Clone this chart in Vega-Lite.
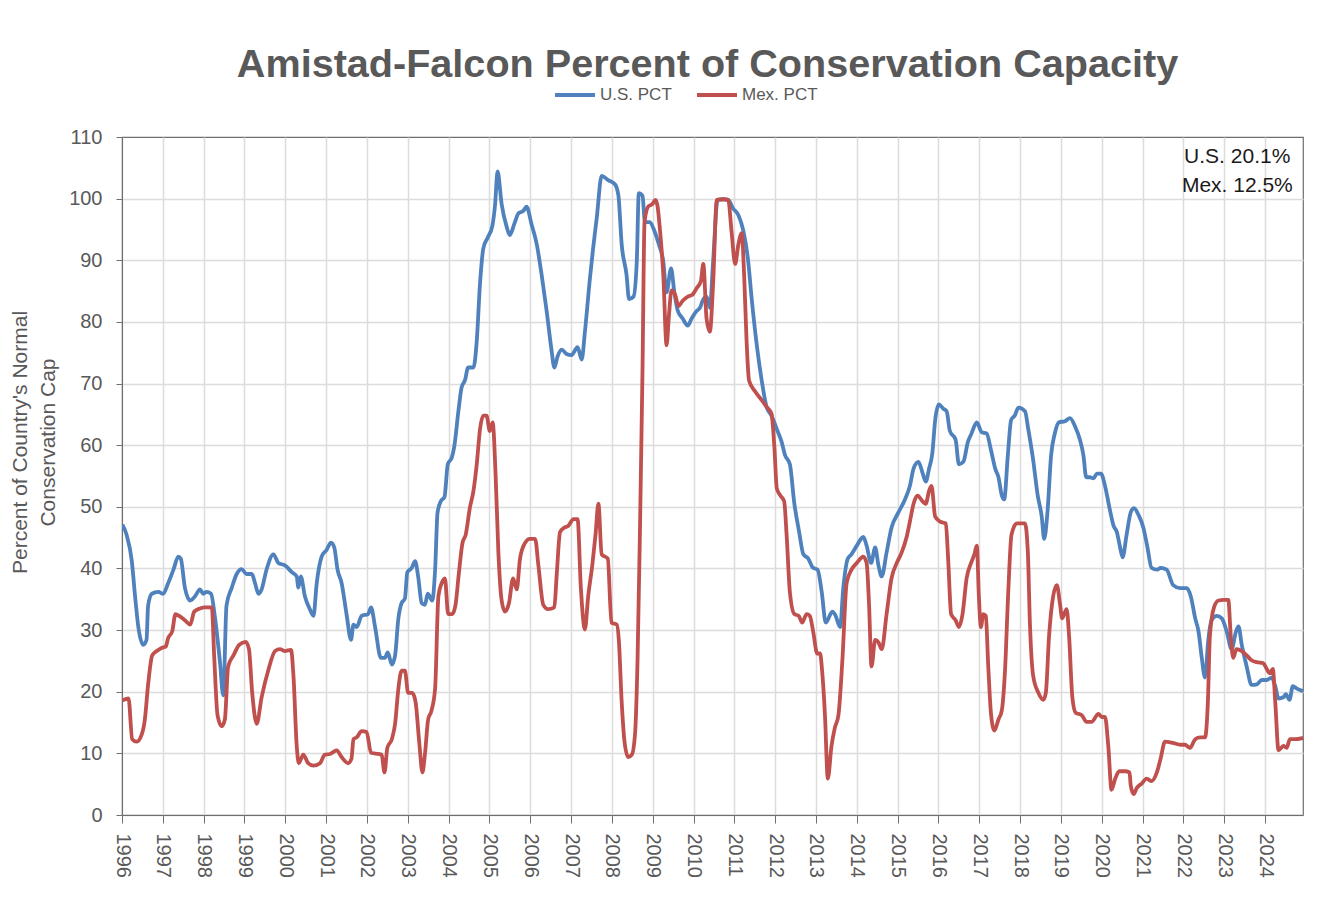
{
  "$schema": "https://vega.github.io/schema/vega-lite/v6.json",
  "autosize": {"type": "none"},
  "width": 1181,
  "height": 678,
  "padding": {"left": 122, "top": 137, "right": 33, "bottom": 98},
  "background": "white",
  "config": {
    "font": "Liberation Sans",
    "view": {"stroke": "#6f6f6f", "strokeWidth": 1.2},
    "axis": {"domainColor": "#6f6f6f", "tickColor": "#6f6f6f", "labelColor": "#595959", "labelFont": "Liberation Sans", "titleFont": "Liberation Sans"}
  },
  "title": {
    "text": "Amistad-Falcon Percent of Conservation Capacity",
    "font": "Liberation Sans",
    "fontSize": 39.6,
    "fontWeight": "bold",
    "color": "#595959",
    "anchor": "middle",
    "offset": -13,
    "dx": -5
  },
  "datasets": {
    "levels": [
      {"year":1996.01,"series":"U.S. PCT","pct":47.1},{"year":1996.11,"series":"U.S. PCT","pct":45.5},{"year":1996.24,"series":"U.S. PCT","pct":41.2},{"year":1996.32,"series":"U.S. PCT","pct":35.5},{"year":1996.40,"series":"U.S. PCT","pct":30.5},{"year":1996.52,"series":"U.S. PCT","pct":27.6},{"year":1996.60,"series":"U.S. PCT","pct":28.4},{"year":1996.64,"series":"U.S. PCT","pct":34},{"year":1996.73,"series":"U.S. PCT","pct":35.9},{"year":1996.89,"series":"U.S. PCT","pct":36.2},
      {"year":1997.01,"series":"U.S. PCT","pct":35.9},{"year":1997.13,"series":"U.S. PCT","pct":37.6},{"year":1997.26,"series":"U.S. PCT","pct":39.8},{"year":1997.38,"series":"U.S. PCT","pct":41.9},{"year":1997.44,"series":"U.S. PCT","pct":41.6},{"year":1997.54,"series":"U.S. PCT","pct":36.9},{"year":1997.67,"series":"U.S. PCT","pct":34.8},{"year":1997.79,"series":"U.S. PCT","pct":35.5},{"year":1997.91,"series":"U.S. PCT","pct":36.6},{"year":1997.99,"series":"U.S. PCT","pct":35.9},
      {"year":1998.07,"series":"U.S. PCT","pct":36.2},{"year":1998.18,"series":"U.S. PCT","pct":35.9},{"year":1998.28,"series":"U.S. PCT","pct":31.9},{"year":1998.40,"series":"U.S. PCT","pct":24.8},{"year":1998.48,"series":"U.S. PCT","pct":19.4},{"year":1998.56,"series":"U.S. PCT","pct":34},{"year":1998.69,"series":"U.S. PCT","pct":36.9},{"year":1998.81,"series":"U.S. PCT","pct":39.1},{"year":1998.93,"series":"U.S. PCT","pct":39.9},
      {"year":1999.05,"series":"U.S. PCT","pct":39.1},{"year":1999.18,"series":"U.S. PCT","pct":39.1},{"year":1999.26,"series":"U.S. PCT","pct":37.6},{"year":1999.34,"series":"U.S. PCT","pct":35.9},{"year":1999.42,"series":"U.S. PCT","pct":36.6},{"year":1999.54,"series":"U.S. PCT","pct":39.8},{"year":1999.71,"series":"U.S. PCT","pct":42.3},{"year":1999.83,"series":"U.S. PCT","pct":40.9},{"year":1999.99,"series":"U.S. PCT","pct":40.5},
      {"year":2000.16,"series":"U.S. PCT","pct":39.4},{"year":2000.28,"series":"U.S. PCT","pct":38.7},{"year":2000.32,"series":"U.S. PCT","pct":36.9},{"year":2000.38,"series":"U.S. PCT","pct":38.7},{"year":2000.48,"series":"U.S. PCT","pct":35.5},{"year":2000.60,"series":"U.S. PCT","pct":33.4},{"year":2000.69,"series":"U.S. PCT","pct":32.3},{"year":2000.77,"series":"U.S. PCT","pct":37.6},{"year":2000.89,"series":"U.S. PCT","pct":41.9},
      {"year":2001.01,"series":"U.S. PCT","pct":43},{"year":2001.12,"series":"U.S. PCT","pct":44.2},{"year":2001.20,"series":"U.S. PCT","pct":43.4},{"year":2001.28,"series":"U.S. PCT","pct":39.8},{"year":2001.38,"series":"U.S. PCT","pct":37.6},{"year":2001.50,"series":"U.S. PCT","pct":32.6},{"year":2001.61,"series":"U.S. PCT","pct":28.4},{"year":2001.67,"series":"U.S. PCT","pct":30.9},{"year":2001.75,"series":"U.S. PCT","pct":30.5},{"year":2001.87,"series":"U.S. PCT","pct":32.3},
      {"year":2002.03,"series":"U.S. PCT","pct":32.6},{"year":2002.10,"series":"U.S. PCT","pct":33.7},{"year":2002.20,"series":"U.S. PCT","pct":30.5},{"year":2002.34,"series":"U.S. PCT","pct":25.5},{"year":2002.44,"series":"U.S. PCT","pct":25.5},{"year":2002.51,"series":"U.S. PCT","pct":26.4},{"year":2002.61,"series":"U.S. PCT","pct":24.4},{"year":2002.69,"series":"U.S. PCT","pct":25.9},{"year":2002.77,"series":"U.S. PCT","pct":31.9},{"year":2002.85,"series":"U.S. PCT","pct":34.4},{"year":2002.93,"series":"U.S. PCT","pct":35.1},{"year":2002.99,"series":"U.S. PCT","pct":39.4},
      {"year":2003.10,"series":"U.S. PCT","pct":40.1},{"year":2003.18,"series":"U.S. PCT","pct":41.2},{"year":2003.26,"series":"U.S. PCT","pct":38.4},{"year":2003.34,"series":"U.S. PCT","pct":34.4},{"year":2003.42,"series":"U.S. PCT","pct":34.1},{"year":2003.49,"series":"U.S. PCT","pct":35.9},{"year":2003.60,"series":"U.S. PCT","pct":34.8},{"year":2003.67,"series":"U.S. PCT","pct":39.8},{"year":2003.73,"series":"U.S. PCT","pct":49.1},{"year":2003.81,"series":"U.S. PCT","pct":50.9},{"year":2003.90,"series":"U.S. PCT","pct":51.6},{"year":2003.98,"series":"U.S. PCT","pct":56.9},
      {"year":2004.08,"series":"U.S. PCT","pct":58},{"year":2004.14,"series":"U.S. PCT","pct":59.8},{"year":2004.24,"series":"U.S. PCT","pct":65.5},{"year":2004.32,"series":"U.S. PCT","pct":69.4},{"year":2004.40,"series":"U.S. PCT","pct":70.5},{"year":2004.48,"series":"U.S. PCT","pct":72.6},{"year":2004.61,"series":"U.S. PCT","pct":72.6},{"year":2004.69,"series":"U.S. PCT","pct":76.9},{"year":2004.77,"series":"U.S. PCT","pct":86.2},{"year":2004.85,"series":"U.S. PCT","pct":91.9},{"year":2004.96,"series":"U.S. PCT","pct":93.7},
      {"year":2005.07,"series":"U.S. PCT","pct":95.5},{"year":2005.14,"series":"U.S. PCT","pct":99.1},{"year":2005.20,"series":"U.S. PCT","pct":104.4},{"year":2005.30,"series":"U.S. PCT","pct":99.1},{"year":2005.42,"series":"U.S. PCT","pct":95.5},{"year":2005.50,"series":"U.S. PCT","pct":94.1},{"year":2005.61,"series":"U.S. PCT","pct":95.9},{"year":2005.71,"series":"U.S. PCT","pct":97.6},{"year":2005.83,"series":"U.S. PCT","pct":98},{"year":2005.91,"series":"U.S. PCT","pct":98.7},
      {"year":2006.03,"series":"U.S. PCT","pct":95.9},{"year":2006.16,"series":"U.S. PCT","pct":92.6},{"year":2006.28,"series":"U.S. PCT","pct":87.6},{"year":2006.40,"series":"U.S. PCT","pct":81.9},{"year":2006.52,"series":"U.S. PCT","pct":75.5},{"year":2006.59,"series":"U.S. PCT","pct":72.6},{"year":2006.67,"series":"U.S. PCT","pct":74.4},{"year":2006.77,"series":"U.S. PCT","pct":75.5},{"year":2006.89,"series":"U.S. PCT","pct":74.8},
      {"year":2007.01,"series":"U.S. PCT","pct":74.6},{"year":2007.16,"series":"U.S. PCT","pct":75.9},{"year":2007.26,"series":"U.S. PCT","pct":73.9},{"year":2007.34,"series":"U.S. PCT","pct":78.4},{"year":2007.46,"series":"U.S. PCT","pct":86.9},{"year":2007.54,"series":"U.S. PCT","pct":91.9},{"year":2007.63,"series":"U.S. PCT","pct":96.9},{"year":2007.75,"series":"U.S. PCT","pct":103.7},{"year":2007.91,"series":"U.S. PCT","pct":103},
      {"year":2008.08,"series":"U.S. PCT","pct":102.3},{"year":2008.16,"series":"U.S. PCT","pct":100.5},{"year":2008.24,"series":"U.S. PCT","pct":92.6},{"year":2008.36,"series":"U.S. PCT","pct":87.6},{"year":2008.42,"series":"U.S. PCT","pct":83.7},{"year":2008.53,"series":"U.S. PCT","pct":84.1},{"year":2008.61,"series":"U.S. PCT","pct":89.8},{"year":2008.66,"series":"U.S. PCT","pct":100.9},{"year":2008.75,"series":"U.S. PCT","pct":100.5},{"year":2008.81,"series":"U.S. PCT","pct":96.2},{"year":2008.93,"series":"U.S. PCT","pct":96.2},
      {"year":2009.04,"series":"U.S. PCT","pct":94.8},{"year":2009.15,"series":"U.S. PCT","pct":92.6},{"year":2009.26,"series":"U.S. PCT","pct":89.8},{"year":2009.34,"series":"U.S. PCT","pct":84.8},{"year":2009.45,"series":"U.S. PCT","pct":88.7},{"year":2009.53,"series":"U.S. PCT","pct":84.8},{"year":2009.61,"series":"U.S. PCT","pct":81.9},{"year":2009.73,"series":"U.S. PCT","pct":80.6},{"year":2009.86,"series":"U.S. PCT","pct":79.4},{"year":2009.95,"series":"U.S. PCT","pct":80.5},
      {"year":2010.08,"series":"U.S. PCT","pct":81.8},{"year":2010.16,"series":"U.S. PCT","pct":82.3},{"year":2010.22,"series":"U.S. PCT","pct":83.4},{"year":2010.32,"series":"U.S. PCT","pct":84.1},{"year":2010.40,"series":"U.S. PCT","pct":82.3},{"year":2010.48,"series":"U.S. PCT","pct":89.8},{"year":2010.59,"series":"U.S. PCT","pct":99.8},{"year":2010.73,"series":"U.S. PCT","pct":99.9},{"year":2010.85,"series":"U.S. PCT","pct":99.8},{"year":2010.97,"series":"U.S. PCT","pct":98.4},
      {"year":2011.10,"series":"U.S. PCT","pct":97.3},{"year":2011.22,"series":"U.S. PCT","pct":94.8},{"year":2011.34,"series":"U.S. PCT","pct":89.8},{"year":2011.42,"series":"U.S. PCT","pct":84.1},{"year":2011.55,"series":"U.S. PCT","pct":76.2},{"year":2011.67,"series":"U.S. PCT","pct":70.5},{"year":2011.79,"series":"U.S. PCT","pct":66.2},{"year":2011.91,"series":"U.S. PCT","pct":64.8},
      {"year":2012.04,"series":"U.S. PCT","pct":62.6},{"year":2012.16,"series":"U.S. PCT","pct":60.5},{"year":2012.24,"series":"U.S. PCT","pct":58.4},{"year":2012.36,"series":"U.S. PCT","pct":56.9},{"year":2012.47,"series":"U.S. PCT","pct":50.5},{"year":2012.58,"series":"U.S. PCT","pct":46.2},{"year":2012.69,"series":"U.S. PCT","pct":42.3},{"year":2012.81,"series":"U.S. PCT","pct":41.6},{"year":2012.93,"series":"U.S. PCT","pct":40.1},
      {"year":2013.04,"series":"U.S. PCT","pct":39.8},{"year":2013.14,"series":"U.S. PCT","pct":36.2},{"year":2013.24,"series":"U.S. PCT","pct":31.2},{"year":2013.40,"series":"U.S. PCT","pct":33},{"year":2013.47,"series":"U.S. PCT","pct":32.5},{"year":2013.59,"series":"U.S. PCT","pct":30.5},{"year":2013.67,"series":"U.S. PCT","pct":36.9},{"year":2013.78,"series":"U.S. PCT","pct":41.6},{"year":2013.87,"series":"U.S. PCT","pct":42.3},
      {"year":2014.00,"series":"U.S. PCT","pct":43.7},{"year":2014.16,"series":"U.S. PCT","pct":45.1},{"year":2014.24,"series":"U.S. PCT","pct":43.7},{"year":2014.35,"series":"U.S. PCT","pct":40.9},{"year":2014.45,"series":"U.S. PCT","pct":43.4},{"year":2014.53,"series":"U.S. PCT","pct":40.5},{"year":2014.61,"series":"U.S. PCT","pct":38.7},{"year":2014.73,"series":"U.S. PCT","pct":42.6},{"year":2014.85,"series":"U.S. PCT","pct":46.6},
      {"year":2015.02,"series":"U.S. PCT","pct":49.1},{"year":2015.18,"series":"U.S. PCT","pct":51.2},{"year":2015.30,"series":"U.S. PCT","pct":53.4},{"year":2015.39,"series":"U.S. PCT","pct":56.2},{"year":2015.51,"series":"U.S. PCT","pct":57.3},{"year":2015.61,"series":"U.S. PCT","pct":55.5},{"year":2015.69,"series":"U.S. PCT","pct":54.1},{"year":2015.77,"series":"U.S. PCT","pct":56.2},{"year":2015.85,"series":"U.S. PCT","pct":58.7},{"year":2015.92,"series":"U.S. PCT","pct":64.1},
      {"year":2016.01,"series":"U.S. PCT","pct":66.6},{"year":2016.12,"series":"U.S. PCT","pct":65.9},{"year":2016.20,"series":"U.S. PCT","pct":65.5},{"year":2016.28,"series":"U.S. PCT","pct":62.3},{"year":2016.42,"series":"U.S. PCT","pct":60.9},{"year":2016.50,"series":"U.S. PCT","pct":56.9},{"year":2016.61,"series":"U.S. PCT","pct":57.3},{"year":2016.72,"series":"U.S. PCT","pct":60.5},{"year":2016.81,"series":"U.S. PCT","pct":61.9},{"year":2016.94,"series":"U.S. PCT","pct":63.7},
      {"year":2017.06,"series":"U.S. PCT","pct":62.1},{"year":2017.18,"series":"U.S. PCT","pct":61.9},{"year":2017.29,"series":"U.S. PCT","pct":59.1},{"year":2017.39,"series":"U.S. PCT","pct":56.2},{"year":2017.47,"series":"U.S. PCT","pct":54.8},{"year":2017.55,"series":"U.S. PCT","pct":51.9},{"year":2017.61,"series":"U.S. PCT","pct":51.2},{"year":2017.70,"series":"U.S. PCT","pct":58.4},{"year":2017.78,"series":"U.S. PCT","pct":64.1},{"year":2017.87,"series":"U.S. PCT","pct":64.8},{"year":2017.96,"series":"U.S. PCT","pct":66.1},
      {"year":2018.12,"series":"U.S. PCT","pct":65.5},{"year":2018.20,"series":"U.S. PCT","pct":62.6},{"year":2018.32,"series":"U.S. PCT","pct":57.6},{"year":2018.43,"series":"U.S. PCT","pct":51.9},{"year":2018.53,"series":"U.S. PCT","pct":48.4},{"year":2018.59,"series":"U.S. PCT","pct":44.8},{"year":2018.67,"series":"U.S. PCT","pct":49.1},{"year":2018.76,"series":"U.S. PCT","pct":58.4},{"year":2018.85,"series":"U.S. PCT","pct":61.9},{"year":2018.95,"series":"U.S. PCT","pct":63.7},
      {"year":2019.10,"series":"U.S. PCT","pct":63.9},{"year":2019.22,"series":"U.S. PCT","pct":64.4},{"year":2019.35,"series":"U.S. PCT","pct":63},{"year":2019.47,"series":"U.S. PCT","pct":60.8},{"year":2019.55,"series":"U.S. PCT","pct":58.4},{"year":2019.62,"series":"U.S. PCT","pct":54.8},{"year":2019.71,"series":"U.S. PCT","pct":54.8},{"year":2019.80,"series":"U.S. PCT","pct":54.6},{"year":2019.88,"series":"U.S. PCT","pct":55.4},{"year":2019.98,"series":"U.S. PCT","pct":55.4},
      {"year":2020.08,"series":"U.S. PCT","pct":53.4},{"year":2020.19,"series":"U.S. PCT","pct":49.8},{"year":2020.29,"series":"U.S. PCT","pct":46.9},{"year":2020.37,"series":"U.S. PCT","pct":45.9},{"year":2020.45,"series":"U.S. PCT","pct":43.4},{"year":2020.51,"series":"U.S. PCT","pct":41.8},{"year":2020.61,"series":"U.S. PCT","pct":45.5},{"year":2020.71,"series":"U.S. PCT","pct":49.1},{"year":2020.79,"series":"U.S. PCT","pct":49.8},{"year":2020.90,"series":"U.S. PCT","pct":48.7},
      {"year":2021.02,"series":"U.S. PCT","pct":46.6},{"year":2021.12,"series":"U.S. PCT","pct":43.4},{"year":2021.22,"series":"U.S. PCT","pct":40.1},{"year":2021.36,"series":"U.S. PCT","pct":39.8},{"year":2021.44,"series":"U.S. PCT","pct":40.1},{"year":2021.59,"series":"U.S. PCT","pct":39.8},{"year":2021.75,"series":"U.S. PCT","pct":37.3},{"year":2021.92,"series":"U.S. PCT","pct":36.8},
      {"year":2022.08,"series":"U.S. PCT","pct":36.8},{"year":2022.18,"series":"U.S. PCT","pct":35.5},{"year":2022.29,"series":"U.S. PCT","pct":31.9},{"year":2022.37,"series":"U.S. PCT","pct":29.8},{"year":2022.45,"series":"U.S. PCT","pct":25.5},{"year":2022.53,"series":"U.S. PCT","pct":22.3},{"year":2022.61,"series":"U.S. PCT","pct":28.4},{"year":2022.69,"series":"U.S. PCT","pct":31.6},{"year":2022.82,"series":"U.S. PCT","pct":32.3},{"year":2022.94,"series":"U.S. PCT","pct":31.9},
      {"year":2023.06,"series":"U.S. PCT","pct":29.8},{"year":2023.18,"series":"U.S. PCT","pct":26.9},{"year":2023.29,"series":"U.S. PCT","pct":29.8},{"year":2023.35,"series":"U.S. PCT","pct":30.6},{"year":2023.43,"series":"U.S. PCT","pct":27.6},{"year":2023.55,"series":"U.S. PCT","pct":24.1},{"year":2023.67,"series":"U.S. PCT","pct":21.1},{"year":2023.80,"series":"U.S. PCT","pct":21.2},{"year":2023.92,"series":"U.S. PCT","pct":21.9},
      {"year":2024.04,"series":"U.S. PCT","pct":21.9},{"year":2024.16,"series":"U.S. PCT","pct":22.3},{"year":2024.25,"series":"U.S. PCT","pct":20.9},{"year":2024.33,"series":"U.S. PCT","pct":18.9},{"year":2024.45,"series":"U.S. PCT","pct":19.1},{"year":2024.51,"series":"U.S. PCT","pct":19.6},{"year":2024.60,"series":"U.S. PCT","pct":18.7},{"year":2024.68,"series":"U.S. PCT","pct":20.9},{"year":2024.78,"series":"U.S. PCT","pct":20.5},{"year":2024.93,"series":"U.S. PCT","pct":20.1},

      {"year":1996.01,"series":"Mex. PCT","pct":18.6},{"year":1996.16,"series":"Mex. PCT","pct":18.9},{"year":1996.25,"series":"Mex. PCT","pct":12.3},{"year":1996.36,"series":"Mex. PCT","pct":11.9},{"year":1996.48,"series":"Mex. PCT","pct":13},{"year":1996.56,"series":"Mex. PCT","pct":15.5},{"year":1996.64,"series":"Mex. PCT","pct":21.2},{"year":1996.74,"series":"Mex. PCT","pct":25.9},{"year":1996.85,"series":"Mex. PCT","pct":26.6},{"year":1996.97,"series":"Mex. PCT","pct":27.1},
      {"year":1997.07,"series":"Mex. PCT","pct":27.3},{"year":1997.13,"series":"Mex. PCT","pct":28.7},{"year":1997.23,"series":"Mex. PCT","pct":29.8},{"year":1997.31,"series":"Mex. PCT","pct":32.6},{"year":1997.40,"series":"Mex. PCT","pct":32.3},{"year":1997.54,"series":"Mex. PCT","pct":31.6},{"year":1997.67,"series":"Mex. PCT","pct":30.9},{"year":1997.77,"series":"Mex. PCT","pct":33},{"year":1997.91,"series":"Mex. PCT","pct":33.5},
      {"year":1998.03,"series":"Mex. PCT","pct":33.7},{"year":1998.20,"series":"Mex. PCT","pct":33.7},{"year":1998.26,"series":"Mex. PCT","pct":25.5},{"year":1998.34,"series":"Mex. PCT","pct":16.2},{"year":1998.44,"series":"Mex. PCT","pct":14.4},{"year":1998.52,"series":"Mex. PCT","pct":15.5},{"year":1998.60,"series":"Mex. PCT","pct":24.1},{"year":1998.73,"series":"Mex. PCT","pct":25.9},{"year":1998.87,"series":"Mex. PCT","pct":27.6},
      {"year":1999.03,"series":"Mex. PCT","pct":28.1},{"year":1999.11,"series":"Mex. PCT","pct":26.9},{"year":1999.19,"series":"Mex. PCT","pct":19.8},{"year":1999.30,"series":"Mex. PCT","pct":14.8},{"year":1999.42,"series":"Mex. PCT","pct":19.1},{"year":1999.58,"series":"Mex. PCT","pct":23.4},{"year":1999.75,"series":"Mex. PCT","pct":26.6},{"year":1999.87,"series":"Mex. PCT","pct":26.9},{"year":1999.99,"series":"Mex. PCT","pct":26.6},
      {"year":2000.14,"series":"Mex. PCT","pct":26.8},{"year":2000.20,"series":"Mex. PCT","pct":22.6},{"year":2000.28,"series":"Mex. PCT","pct":11.2},{"year":2000.33,"series":"Mex. PCT","pct":8.4},{"year":2000.44,"series":"Mex. PCT","pct":9.8},{"year":2000.56,"series":"Mex. PCT","pct":8.4},{"year":2000.69,"series":"Mex. PCT","pct":8},{"year":2000.85,"series":"Mex. PCT","pct":8.4},{"year":2000.97,"series":"Mex. PCT","pct":9.8},
      {"year":2001.09,"series":"Mex. PCT","pct":9.9},{"year":2001.26,"series":"Mex. PCT","pct":10.5},{"year":2001.38,"series":"Mex. PCT","pct":9.4},{"year":2001.54,"series":"Mex. PCT","pct":8.4},{"year":2001.62,"series":"Mex. PCT","pct":9.1},{"year":2001.67,"series":"Mex. PCT","pct":12.3},{"year":2001.75,"series":"Mex. PCT","pct":12.6},{"year":2001.87,"series":"Mex. PCT","pct":13.6},{"year":2001.99,"series":"Mex. PCT","pct":13.5},
      {"year":2002.10,"series":"Mex. PCT","pct":10.1},{"year":2002.28,"series":"Mex. PCT","pct":9.9},{"year":2002.36,"series":"Mex. PCT","pct":9.8},{"year":2002.43,"series":"Mex. PCT","pct":6.9},{"year":2002.50,"series":"Mex. PCT","pct":10.9},{"year":2002.61,"series":"Mex. PCT","pct":12.3},{"year":2002.69,"series":"Mex. PCT","pct":14.8},{"year":2002.77,"series":"Mex. PCT","pct":20.5},{"year":2002.85,"series":"Mex. PCT","pct":23.4},{"year":2002.93,"series":"Mex. PCT","pct":23.4},
      {"year":2003.01,"series":"Mex. PCT","pct":19.8},{"year":2003.11,"series":"Mex. PCT","pct":19.8},{"year":2003.19,"series":"Mex. PCT","pct":18.4},{"year":2003.28,"series":"Mex. PCT","pct":11.9},{"year":2003.36,"series":"Mex. PCT","pct":6.9},{"year":2003.42,"series":"Mex. PCT","pct":9.8},{"year":2003.50,"series":"Mex. PCT","pct":15.5},{"year":2003.58,"series":"Mex. PCT","pct":16.9},{"year":2003.67,"series":"Mex. PCT","pct":20.5},{"year":2003.75,"series":"Mex. PCT","pct":35.5},{"year":2003.83,"series":"Mex. PCT","pct":37.6},{"year":2003.91,"series":"Mex. PCT","pct":38.4},{"year":2003.99,"series":"Mex. PCT","pct":32.6},
      {"year":2004.09,"series":"Mex. PCT","pct":32.6},{"year":2004.17,"series":"Mex. PCT","pct":34.1},{"year":2004.25,"series":"Mex. PCT","pct":39.1},{"year":2004.34,"series":"Mex. PCT","pct":44.1},{"year":2004.42,"series":"Mex. PCT","pct":45.5},{"year":2004.52,"series":"Mex. PCT","pct":49.8},{"year":2004.61,"series":"Mex. PCT","pct":52.6},{"year":2004.69,"series":"Mex. PCT","pct":56.9},{"year":2004.77,"series":"Mex. PCT","pct":62.6},{"year":2004.85,"series":"Mex. PCT","pct":64.8},{"year":2004.93,"series":"Mex. PCT","pct":64.8},
      {"year":2005.01,"series":"Mex. PCT","pct":62.3},{"year":2005.08,"series":"Mex. PCT","pct":63.7},{"year":2005.15,"series":"Mex. PCT","pct":55.5},{"year":2005.22,"series":"Mex. PCT","pct":42.6},{"year":2005.30,"series":"Mex. PCT","pct":34.8},{"year":2005.38,"series":"Mex. PCT","pct":33},{"year":2005.48,"series":"Mex. PCT","pct":34.4},{"year":2005.58,"series":"Mex. PCT","pct":38.4},{"year":2005.67,"series":"Mex. PCT","pct":36.6},{"year":2005.75,"series":"Mex. PCT","pct":41.6},{"year":2005.87,"series":"Mex. PCT","pct":44.1},{"year":2005.99,"series":"Mex. PCT","pct":44.8},
      {"year":2006.12,"series":"Mex. PCT","pct":44.8},{"year":2006.20,"series":"Mex. PCT","pct":40.5},{"year":2006.32,"series":"Mex. PCT","pct":34.1},{"year":2006.44,"series":"Mex. PCT","pct":33.4},{"year":2006.59,"series":"Mex. PCT","pct":33.7},{"year":2006.65,"series":"Mex. PCT","pct":39.1},{"year":2006.73,"series":"Mex. PCT","pct":45.9},{"year":2006.83,"series":"Mex. PCT","pct":46.6},{"year":2006.93,"series":"Mex. PCT","pct":46.9},
      {"year":2007.06,"series":"Mex. PCT","pct":48},{"year":2007.16,"series":"Mex. PCT","pct":48},{"year":2007.24,"series":"Mex. PCT","pct":36.9},{"year":2007.34,"series":"Mex. PCT","pct":30.1},{"year":2007.42,"series":"Mex. PCT","pct":35.5},{"year":2007.52,"series":"Mex. PCT","pct":40.5},{"year":2007.60,"series":"Mex. PCT","pct":45.5},{"year":2007.67,"series":"Mex. PCT","pct":50.5},{"year":2007.75,"series":"Mex. PCT","pct":42.3},{"year":2007.90,"series":"Mex. PCT","pct":41.6},{"year":2007.99,"series":"Mex. PCT","pct":31.2},
      {"year":2008.12,"series":"Mex. PCT","pct":30.9},{"year":2008.17,"series":"Mex. PCT","pct":28.4},{"year":2008.24,"series":"Mex. PCT","pct":18.4},{"year":2008.31,"series":"Mex. PCT","pct":11.9},{"year":2008.40,"series":"Mex. PCT","pct":9.4},{"year":2008.49,"series":"Mex. PCT","pct":9.8},{"year":2008.57,"series":"Mex. PCT","pct":13.4},{"year":2008.63,"series":"Mex. PCT","pct":25.5},{"year":2008.69,"series":"Mex. PCT","pct":46.9},{"year":2008.75,"series":"Mex. PCT","pct":71.9},{"year":2008.80,"series":"Mex. PCT","pct":96.2},{"year":2008.89,"series":"Mex. PCT","pct":98.7},{"year":2008.99,"series":"Mex. PCT","pct":99.1},
      {"year":2009.07,"series":"Mex. PCT","pct":99.8},{"year":2009.12,"series":"Mex. PCT","pct":98.7},{"year":2009.18,"series":"Mex. PCT","pct":94.8},{"year":2009.26,"series":"Mex. PCT","pct":87.6},{"year":2009.34,"series":"Mex. PCT","pct":76.2},{"year":2009.40,"series":"Mex. PCT","pct":81.2},{"year":2009.46,"series":"Mex. PCT","pct":85.1},{"year":2009.55,"series":"Mex. PCT","pct":84.4},{"year":2009.63,"series":"Mex. PCT","pct":82.6},{"year":2009.73,"series":"Mex. PCT","pct":83.4},{"year":2009.86,"series":"Mex. PCT","pct":84.1},{"year":2009.97,"series":"Mex. PCT","pct":84.4},
      {"year":2010.08,"series":"Mex. PCT","pct":85.5},{"year":2010.18,"series":"Mex. PCT","pct":86.6},{"year":2010.24,"series":"Mex. PCT","pct":89.4},{"year":2010.32,"series":"Mex. PCT","pct":80.5},{"year":2010.40,"series":"Mex. PCT","pct":78.4},{"year":2010.48,"series":"Mex. PCT","pct":86.2},{"year":2010.57,"series":"Mex. PCT","pct":99.8},{"year":2010.73,"series":"Mex. PCT","pct":99.9},{"year":2010.85,"series":"Mex. PCT","pct":99.8},{"year":2010.93,"series":"Mex. PCT","pct":94.8},
      {"year":2011.02,"series":"Mex. PCT","pct":89.4},{"year":2011.10,"series":"Mex. PCT","pct":92.6},{"year":2011.18,"series":"Mex. PCT","pct":94.4},{"year":2011.24,"series":"Mex. PCT","pct":87.6},{"year":2011.30,"series":"Mex. PCT","pct":76.9},{"year":2011.36,"series":"Mex. PCT","pct":70.5},{"year":2011.51,"series":"Mex. PCT","pct":68.7},{"year":2011.67,"series":"Mex. PCT","pct":67.3},{"year":2011.79,"series":"Mex. PCT","pct":66.2},{"year":2011.91,"series":"Mex. PCT","pct":65.1},{"year":2011.98,"series":"Mex. PCT","pct":59.8},
      {"year":2012.04,"series":"Mex. PCT","pct":53},{"year":2012.12,"series":"Mex. PCT","pct":51.9},{"year":2012.22,"series":"Mex. PCT","pct":50.9},{"year":2012.28,"series":"Mex. PCT","pct":45.5},{"year":2012.36,"series":"Mex. PCT","pct":36.2},{"year":2012.47,"series":"Mex. PCT","pct":32.6},{"year":2012.58,"series":"Mex. PCT","pct":32.3},{"year":2012.66,"series":"Mex. PCT","pct":31.2},{"year":2012.77,"series":"Mex. PCT","pct":32.6},{"year":2012.85,"series":"Mex. PCT","pct":32.3},{"year":2012.93,"series":"Mex. PCT","pct":29.8},
      {"year":2013.03,"series":"Mex. PCT","pct":26.2},{"year":2013.10,"series":"Mex. PCT","pct":26.2},{"year":2013.15,"series":"Mex. PCT","pct":23.4},{"year":2013.22,"series":"Mex. PCT","pct":16.2},{"year":2013.29,"series":"Mex. PCT","pct":5.9},{"year":2013.38,"series":"Mex. PCT","pct":11.2},{"year":2013.46,"series":"Mex. PCT","pct":14.1},{"year":2013.55,"series":"Mex. PCT","pct":16.2},{"year":2013.65,"series":"Mex. PCT","pct":25.5},{"year":2013.75,"series":"Mex. PCT","pct":37.6},{"year":2013.87,"series":"Mex. PCT","pct":39.8},
      {"year":2014.00,"series":"Mex. PCT","pct":40.9},{"year":2014.16,"series":"Mex. PCT","pct":41.9},{"year":2014.24,"series":"Mex. PCT","pct":40.9},{"year":2014.30,"series":"Mex. PCT","pct":34.1},{"year":2014.36,"series":"Mex. PCT","pct":24.1},{"year":2014.45,"series":"Mex. PCT","pct":28.4},{"year":2014.53,"series":"Mex. PCT","pct":28},{"year":2014.61,"series":"Mex. PCT","pct":26.9},{"year":2014.73,"series":"Mex. PCT","pct":32.6},{"year":2014.85,"series":"Mex. PCT","pct":38.4},{"year":2014.98,"series":"Mex. PCT","pct":40.9},
      {"year":2015.10,"series":"Mex. PCT","pct":42.6},{"year":2015.22,"series":"Mex. PCT","pct":45.1},{"year":2015.30,"series":"Mex. PCT","pct":47.6},{"year":2015.39,"series":"Mex. PCT","pct":50.5},{"year":2015.49,"series":"Mex. PCT","pct":51.8},{"year":2015.61,"series":"Mex. PCT","pct":50.9},{"year":2015.69,"series":"Mex. PCT","pct":50.5},{"year":2015.77,"series":"Mex. PCT","pct":52.6},{"year":2015.83,"series":"Mex. PCT","pct":53.4},{"year":2015.92,"series":"Mex. PCT","pct":48.4},
      {"year":2016.04,"series":"Mex. PCT","pct":47.6},{"year":2016.18,"series":"Mex. PCT","pct":47.3},{"year":2016.24,"series":"Mex. PCT","pct":41.2},{"year":2016.31,"series":"Mex. PCT","pct":32.6},{"year":2016.42,"series":"Mex. PCT","pct":31.6},{"year":2016.50,"series":"Mex. PCT","pct":30.5},{"year":2016.59,"series":"Mex. PCT","pct":32.6},{"year":2016.69,"series":"Mex. PCT","pct":38.4},{"year":2016.80,"series":"Mex. PCT","pct":40.9},{"year":2016.88,"series":"Mex. PCT","pct":42.3},{"year":2016.94,"series":"Mex. PCT","pct":43.7},{"year":2016.99,"series":"Mex. PCT","pct":35.5},
      {"year":2017.04,"series":"Mex. PCT","pct":30.5},{"year":2017.10,"series":"Mex. PCT","pct":32.6},{"year":2017.16,"series":"Mex. PCT","pct":32.3},{"year":2017.22,"series":"Mex. PCT","pct":24.1},{"year":2017.29,"series":"Mex. PCT","pct":16.2},{"year":2017.37,"series":"Mex. PCT","pct":13.7},{"year":2017.47,"series":"Mex. PCT","pct":15.5},{"year":2017.55,"series":"Mex. PCT","pct":16.9},{"year":2017.63,"series":"Mex. PCT","pct":23.4},{"year":2017.71,"series":"Mex. PCT","pct":36.2},{"year":2017.79,"series":"Mex. PCT","pct":45.5},{"year":2017.92,"series":"Mex. PCT","pct":47.3},
      {"year":2018.04,"series":"Mex. PCT","pct":47.3},{"year":2018.12,"series":"Mex. PCT","pct":47.3},{"year":2018.19,"series":"Mex. PCT","pct":42.6},{"year":2018.24,"series":"Mex. PCT","pct":31.2},{"year":2018.32,"series":"Mex. PCT","pct":22.6},{"year":2018.45,"series":"Mex. PCT","pct":19.8},{"year":2018.57,"series":"Mex. PCT","pct":18.7},{"year":2018.63,"series":"Mex. PCT","pct":19.8},{"year":2018.71,"series":"Mex. PCT","pct":29.1},{"year":2018.81,"series":"Mex. PCT","pct":35.5},{"year":2018.90,"series":"Mex. PCT","pct":37.3},{"year":2018.98,"series":"Mex. PCT","pct":34.1},
      {"year":2019.03,"series":"Mex. PCT","pct":31.9},{"year":2019.14,"series":"Mex. PCT","pct":33.4},{"year":2019.20,"series":"Mex. PCT","pct":29},{"year":2019.28,"series":"Mex. PCT","pct":19.1},{"year":2019.36,"series":"Mex. PCT","pct":16.6},{"year":2019.51,"series":"Mex. PCT","pct":16.2},{"year":2019.63,"series":"Mex. PCT","pct":15.1},{"year":2019.75,"series":"Mex. PCT","pct":15.1},{"year":2019.92,"series":"Mex. PCT","pct":16.4},
      {"year":2020.00,"series":"Mex. PCT","pct":15.9},{"year":2020.08,"series":"Mex. PCT","pct":15.9},{"year":2020.16,"series":"Mex. PCT","pct":11.2},{"year":2020.24,"series":"Mex. PCT","pct":4.1},{"year":2020.33,"series":"Mex. PCT","pct":5.9},{"year":2020.43,"series":"Mex. PCT","pct":7.1},{"year":2020.57,"series":"Mex. PCT","pct":7.1},{"year":2020.68,"series":"Mex. PCT","pct":6.9},{"year":2020.71,"series":"Mex. PCT","pct":4.8},{"year":2020.78,"series":"Mex. PCT","pct":3.4},{"year":2020.86,"series":"Mex. PCT","pct":4.4},{"year":2020.98,"series":"Mex. PCT","pct":5.1},
      {"year":2021.10,"series":"Mex. PCT","pct":5.9},{"year":2021.22,"series":"Mex. PCT","pct":5.5},{"year":2021.35,"series":"Mex. PCT","pct":6.9},{"year":2021.44,"series":"Mex. PCT","pct":9.1},{"year":2021.55,"series":"Mex. PCT","pct":11.9},{"year":2021.67,"series":"Mex. PCT","pct":11.8},{"year":2021.80,"series":"Mex. PCT","pct":11.6},{"year":2021.92,"series":"Mex. PCT","pct":11.4},
      {"year":2022.04,"series":"Mex. PCT","pct":11.4},{"year":2022.16,"series":"Mex. PCT","pct":10.9},{"year":2022.29,"series":"Mex. PCT","pct":12.3},{"year":2022.41,"series":"Mex. PCT","pct":12.6},{"year":2022.53,"series":"Mex. PCT","pct":12.6},{"year":2022.60,"series":"Mex. PCT","pct":18.4},{"year":2022.65,"series":"Mex. PCT","pct":29.1},{"year":2022.75,"series":"Mex. PCT","pct":33.7},{"year":2022.86,"series":"Mex. PCT","pct":34.8},{"year":2022.98,"series":"Mex. PCT","pct":34.9},
      {"year":2023.10,"series":"Mex. PCT","pct":34.9},{"year":2023.16,"series":"Mex. PCT","pct":29.1},{"year":2023.22,"series":"Mex. PCT","pct":25.5},{"year":2023.30,"series":"Mex. PCT","pct":26.9},{"year":2023.43,"series":"Mex. PCT","pct":26.6},{"year":2023.55,"series":"Mex. PCT","pct":25.9},{"year":2023.67,"series":"Mex. PCT","pct":25.1},{"year":2023.80,"series":"Mex. PCT","pct":24.8},{"year":2023.96,"series":"Mex. PCT","pct":24.6},
      {"year":2024.04,"series":"Mex. PCT","pct":23.7},{"year":2024.12,"series":"Mex. PCT","pct":23},{"year":2024.19,"series":"Mex. PCT","pct":23.7},{"year":2024.25,"series":"Mex. PCT","pct":18.4},{"year":2024.33,"series":"Mex. PCT","pct":10.5},{"year":2024.45,"series":"Mex. PCT","pct":11.2},{"year":2024.53,"series":"Mex. PCT","pct":10.9},{"year":2024.61,"series":"Mex. PCT","pct":12.3},{"year":2024.73,"series":"Mex. PCT","pct":12.3},{"year":2024.93,"series":"Mex. PCT","pct":12.5}
    ],
    "notes": [
      {"year": 2024.62, "pct": 106.8, "label": "U.S. 20.1%"},
      {"year": 2024.68, "pct": 102.1, "label": "Mex.  12.5%"}
    ]
  },
  "layer": [
    {
      "data": {"name": "levels"},
      "mark": {"type": "line", "strokeWidth": 3.8, "interpolate": "monotone", "clip": true},
      "encoding": {
        "x": {
          "field": "year", "type": "quantitative",
          "scale": {"domain": [1996, 2024.93], "nice": false, "zero": false},
          "axis": {
            "title": null,
            "values": [1996,1996.5,1997,1997.5,1998,1998.5,1999,1999.5,2000,2000.5,2001,2001.5,2002,2002.5,2003,2003.5,2004,2004.5,2005,2005.5,2006,2006.5,2007,2007.5,2008,2008.5,2009,2009.5,2010,2010.5,2011,2011.5,2012,2012.5,2013,2013.5,2014,2014.5,2015,2015.5,2016,2016.5,2017,2017.5,2018,2018.5,2019,2019.5,2020,2020.5,2021,2021.5,2022,2022.5,2023,2023.5,2024,2024.5],
            "labelExpr": "datum.value % 1 === 0 ? format(datum.value, 'd') : ''",
            "labelAngle": 90,
            "labelAlign": "left",
            "labelBaseline": "middle",
            "labelFontSize": 20,
            "labelPadding": 10,
            "labelOverlap": false,
            "labelFlush": false,
            "tickSize": 8,
            "grid": true,
            "gridColor": {"condition": {"test": "datum.value % 1 !== 0", "value": "#ececec"}, "value": "#dcdcdc"},
            "gridDash": {"condition": {"test": "datum.value % 1 !== 0", "value": [2, 2]}, "value": []},
            "gridWidth": 1.5
          }
        },
        "y": {
          "field": "pct", "type": "quantitative",
          "scale": {"domain": [0, 110], "nice": false},
          "axis": {
            "values": [0,10,20,30,40,50,60,70,80,90,100,110],
            "title": ["Percent of Country's Normal", "Conservation Cap"],
            "titleFontSize": 21,
            "titleFontWeight": "normal",
            "titleColor": "#595959",
            "titleX": -113,
            "titleY": 305,
            "titleAlign": "center",
            "titleBaseline": "top",
            "titleLineHeight": 28,
            "labelFontSize": 20,
            "labelPadding": 14,
            "tickSize": 6,
            "gridColor": "#dcdcdc",
            "gridOpacity": {"condition": {"test": "datum.value === 110", "value": 0}, "value": 1},
            "gridWidth": 1.5
          }
        },
        "color": {
          "field": "series", "type": "nominal",
          "scale": {"domain": ["U.S. PCT", "Mex. PCT"], "range": ["#4F81BD", "#C0504D"]},
          "legend": {
            "title": null,
            "orient": "none",
            "direction": "horizontal",
            "legendX": 431,
            "legendY": -64,
            "symbolType": "stroke",
            "symbolSize": 1600,
            "symbolStrokeWidth": 3.8,
            "labelFontSize": 17,
            "labelColor": "#595959",
            "labelOffset": 3,
            "columnPadding": 17
          }
        }
      }
    },
    {
      "data": {"name": "notes"},
      "mark": {"type": "text", "align": "right", "baseline": "middle", "fontSize": 21, "color": "#1a1a1a"},
      "encoding": {
        "x": {"field": "year", "type": "quantitative"},
        "y": {"field": "pct", "type": "quantitative"},
        "text": {"field": "label"}
      }
    }
  ]
}
